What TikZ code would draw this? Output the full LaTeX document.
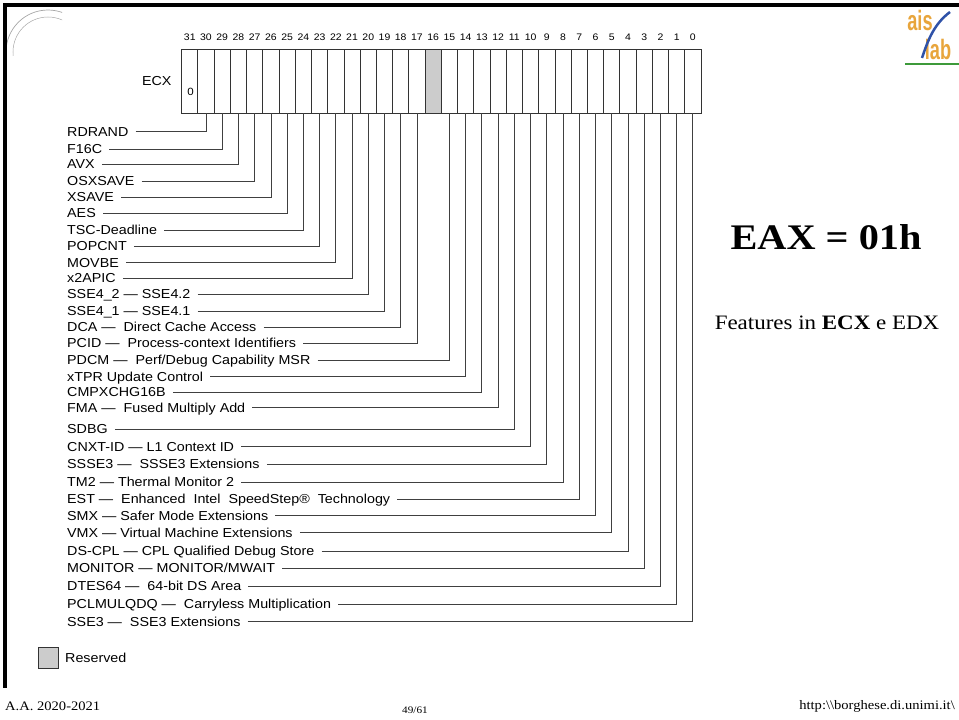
\documentclass[tikz,border=0pt]{standalone}
\usepackage{fontspec}
\usetikzlibrary{positioning}
\newfontfamily\labelfont[FakeStretch=1.1]{Liberation Sans}
\newfontfamily\slidefont[FakeStretch=1.12]{Liberation Serif}
\newfontfamily\logofont[FakeStretch=0.65]{Liberation Sans}
\definecolor{aisorange}{HTML}{E8A53C}
\definecolor{aisblue}{HTML}{2F52A8}
\definecolor{aisgreen}{HTML}{3D9A3A}

\begin{document}
\begin{tikzpicture}[x=1pt, y=-1pt,
  cell/.style={draw=black!80, line width=0.8pt, minimum width=16.23pt, minimum height=64.3pt, inner sep=0pt, outer sep=0pt},
  bitnum/.style={font=\labelfont\fontsize{9.5}{10}\selectfont, inner sep=0pt},
  feat/.style={font=\labelfont\fontsize{13}{15}\selectfont, anchor=west, inner xsep=7pt, inner ysep=0pt, text height=9.3pt, text depth=0pt},
  wire/.style={draw=black!75, line width=0.8pt},
  logo/.style={font=\logofont\bfseries\fontsize{28}{28}\selectfont, text=aisorange, inner sep=0pt},
  foot/.style={font=\slidefont\fontsize{13}{15}\selectfont, inner sep=0pt}]
  \useasboundingbox (0,0) rectangle (959,720);

  \fill[black] (3,3) rectangle (959,7);
  \fill[black] (3,3) rectangle (7,688);

  \begin{scope}
    \clip (7,7) rectangle (62,55);
    \draw[gray!70, line width=0.7pt] (48,52) circle (42);
    \draw[gray!70, line width=0.5pt] (48,52) circle (35);
  \end{scope}

  \node[logo] (ais) at (920,20) {ais};
  \node[logo] (lab) at (938,49) {lab};
  \draw[aisblue, line width=2.5pt] (922,58) .. controls (928,40) and (934,24) .. (950,12);
  \draw[aisgreen, line width=2pt] (905,64) -- (959,64);

  \foreach \i in {0,...,31} {
    \node[cell] (b\i) at ({701-(\i+0.5)*16.23},81.15) {};
    \node[bitnum, yshift=12pt] (n\i) at (b\i.north) {\i};
  }
  \node[cell, fill=gray!40] at (b16) {};
  \node[bitnum, font=\labelfont\fontsize{10.5}{11}\selectfont] (zero) at (190.5,92) {0};
  \node[feat, inner xsep=2pt, anchor=east, left=8pt of b31] (ecx) {ECX};

  \node[feat] (rdrand) at (60,131.7) {RDRAND};
  \node[feat] (f16c) at (60,149) {F16C};
  \node[feat] (avx) at (60,164.3) {AVX};
  \node[feat] (osxsave) at (60,181) {OSXSAVE};
  \node[feat] (xsave) at (60,197.3) {XSAVE};
  \node[feat] (aes) at (60,213.3) {AES};
  \node[feat] (tscdl) at (60,230) {TSC-Deadline};
  \node[feat] (popcnt) at (60,246) {POPCNT};
  \node[feat] (movbe) at (60,262.7) {MOVBE};
  \node[feat] (xapic) at (60,278.3) {x2APIC};
  \node[feat] (sse42) at (60,294.3) {SSE4\_2 — SSE4.2};
  \node[feat] (sse41) at (60,311) {SSE4\_1 — SSE4.1};
  \node[feat] (dca) at (60,327.3) {DCA —~ Direct Cache Access};
  \node[feat] (pcid) at (60,343.3) {PCID —~ Process-context Identifiers};
  \node[feat] (pdcm) at (60,360) {PDCM —~ Perf/Debug Capability MSR};
  \node[feat] (xtpr) at (60,376.7) {xTPR Update Control};
  \node[feat] (cx16) at (60,392.3) {CMPXCHG16B};
  \node[feat] (fma) at (60,407.7) {FMA —~ Fused Multiply Add};
  \node[feat] (sdbg) at (60,429) {SDBG};
  \node[feat] (cnxt) at (60,446.7) {CNXT-ID — L1 Context ID};
  \node[feat] (ssse3) at (60,464.3) {SSSE3 —~ SSSE3 Extensions};
  \node[feat] (tm2) at (60,482) {TM2 — Thermal Monitor 2};
  \node[feat] (est) at (60,499) {EST —~ Enhanced~ Intel~ SpeedStep®~ Technology};
  \node[feat] (smx) at (60,515.7) {SMX — Safer Mode Extensions};
  \node[feat] (vmx) at (60,532.7) {VMX — Virtual Machine Extensions};
  \node[feat] (dscpl) at (60,551) {DS-CPL — CPL Qualified Debug Store};
  \node[feat] (monitor) at (60,568.3) {MONITOR — MONITOR/MWAIT};
  \node[feat] (dtes64) at (60,586) {DTES64 —~ 64-bit DS Area};
  \node[feat] (pclmul) at (60,604) {PCLMULQDQ —~ Carryless Multiplication};
  \node[feat] (sse3) at (60,621.7) {SSE3 —~ SSE3 Extensions};

  \draw[wire] (rdrand) -| (b30);
  \draw[wire] (f16c) -| (b29);
  \draw[wire] (avx) -| (b28);
  \draw[wire] (osxsave) -| (b27);
  \draw[wire] (xsave) -| (b26);
  \draw[wire] (aes) -| (b25);
  \draw[wire] (tscdl) -| (b24);
  \draw[wire] (popcnt) -| (b23);
  \draw[wire] (movbe) -| (b22);
  \draw[wire] (xapic) -| (b21);
  \draw[wire] (sse42) -| (b20);
  \draw[wire] (sse41) -| (b19);
  \draw[wire] (dca) -| (b18);
  \draw[wire] (pcid) -| (b17);
  \draw[wire] (pdcm) -| (b15);
  \draw[wire] (xtpr) -| (b14);
  \draw[wire] (cx16) -| (b13);
  \draw[wire] (fma) -| (b12);
  \draw[wire] (sdbg) -| (b11);
  \draw[wire] (cnxt) -| (b10);
  \draw[wire] (ssse3) -| (b9);
  \draw[wire] (tm2) -| (b8);
  \draw[wire] (est) -| (b7);
  \draw[wire] (smx) -| (b6);
  \draw[wire] (vmx) -| (b5);
  \draw[wire] (dscpl) -| (b4);
  \draw[wire] (monitor) -| (b3);
  \draw[wire] (dtes64) -| (b2);
  \draw[wire] (pclmul) -| (b1);
  \draw[wire] (sse3) -| (b0);

  \node[cell, fill=gray!40, minimum width=20pt, minimum height=21pt] (resbox) at (48,658) {};
  \node[feat, right=0pt of resbox] (reserved) {Reserved};

  \node[font=\slidefont\bfseries\fontsize{36}{40}\selectfont, inner sep=0pt] (eax) at (826,237) {EAX = 01h};
  \node[font=\slidefont\fontsize{20.5}{24}\selectfont, inner sep=0pt] (features) at (827,323) {Features in \textbf{ECX} e EDX};

  \node[foot, anchor=west] (year) at (5,706) {A.A. 2020-2021};
  \node[foot, font=\slidefont\fontsize{10}{12}\selectfont] (page) at (415,710) {49/61};
  \node[foot, anchor=east] (url) at (955,706) {http:\textbackslash\textbackslash borghese.di.unimi.it\textbackslash};
\end{tikzpicture}
\end{document}
